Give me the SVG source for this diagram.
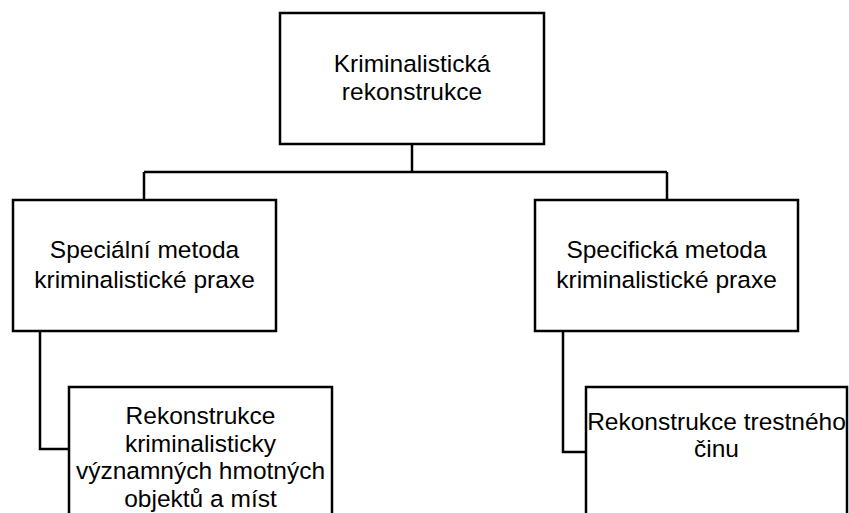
<svg xmlns="http://www.w3.org/2000/svg" width="849" height="513" viewBox="0 0 849 513">
<style>
.box{fill:#fff;stroke:#000;stroke-width:2.5}
.conn{fill:none;stroke:#000;stroke-width:2.5}
text{font-family:"Liberation Sans",Arial,sans-serif;font-size:24.5px;fill:#000;text-anchor:middle}
</style>
<rect width="849" height="513" fill="#fff"/>
<g id="connectors">
<path class="conn" d="M412,144 V172 M144,172 H667 M144,172 V200 M667,172 V200"/>
<path class="conn" d="M40,331 V449 H69"/>
<path class="conn" d="M563,331 V452 H586"/>
</g>
<g id="root">
<rect class="box" x="280" y="13" width="264" height="131"/>
<text x="412" y="72">Kriminalistická</text>
<text x="412" y="100">rekonstrukce</text>
</g>
<g id="specialni">
<rect class="box" x="13" y="200" width="263" height="131"/>
<text x="144.5" y="258">Speciální metoda</text>
<text x="144.5" y="288">kriminalistické praxe</text>
</g>
<g id="specificka">
<rect class="box" x="535" y="200" width="263" height="131"/>
<text x="666.5" y="258">Specifická metoda</text>
<text x="666.5" y="288">kriminalistické praxe</text>
</g>
<g id="objekty">
<rect class="box" x="69" y="387" width="263" height="150"/>
<text x="200.5" y="424">Rekonstrukce</text>
<text x="200.5" y="452">kriminalisticky</text>
<text x="200.5" y="479">významných hmotných</text>
<text x="200.5" y="507">objektů a míst</text>
</g>
<g id="cin">
<rect class="box" x="586" y="387" width="261" height="150"/>
<text x="716.5" y="430">Rekonstrukce trestného</text>
<text x="716.5" y="457">činu</text>
</g>
</svg>
